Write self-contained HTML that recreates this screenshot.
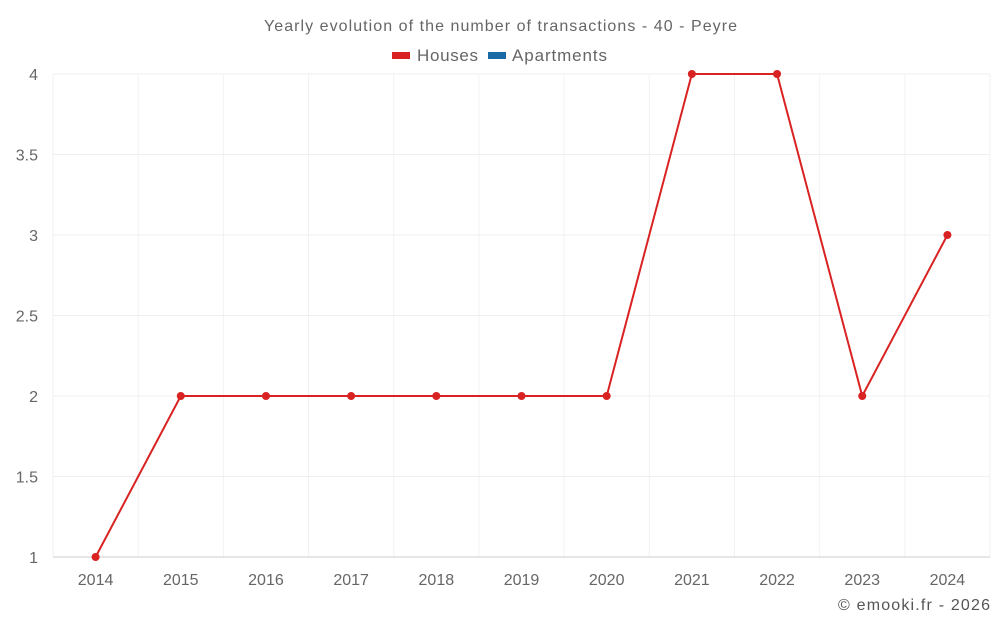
<!DOCTYPE html>
<html><head><meta charset="utf-8"><style>
body{margin:0;background:#fff;font-family:"Liberation Sans",sans-serif;}
</style></head><body>
<svg id="c" width="1000" height="625" style="display:block">
<text x="264" y="31" font-size="16" fill="#666" textLength="473" lengthAdjust="spacing">Yearly evolution of the number of transactions - 40 - Peyre</text>
<g><rect x="392" y="52" width="18" height="7" fill="#d92323"/><text x="417" y="61" font-size="17" fill="#666" textLength="61">Houses</text></g>
<g><rect x="488" y="52" width="18" height="7" fill="#1a6aa5"/><text x="512" y="61" font-size="17" fill="#666" textLength="95">Apartments</text></g>
<g id="grid"></g><g id="axes"></g><g id="series"></g>
<text x="838" y="610" font-size="16" fill="#555" textLength="152">© emooki.fr - 2026</text>
</svg>
<script>
const categories=["2014","2015","2016","2017","2018","2019","2020","2021","2022","2023","2024"];
const houses=[1,2,2,2,2,2,2,4,4,2,3];
const yTicks=[1,1.5,2,2.5,3,3.5,4];
const L=53,R=990,T=74,B=557,yMin=1,yMax=4;
const ns="http://www.w3.org/2000/svg";
const bw=(R-L)/categories.length;
const x=i=>L+bw*(i+0.5);
const y=v=>B-(v-yMin)/(yMax-yMin)*(B-T);
function mk(t,a,p){const e=document.createElementNS(ns,t);for(const k in a)e.setAttribute(k,a[k]);p.appendChild(e);return e;}
const g=document.getElementById('grid'),ax=document.getElementById('axes'),s=document.getElementById('series');
for(let i=0;i<=categories.length;i++){const e=mk('line',{x1:L+bw*i,x2:L+bw*i,y1:T,y2:B,stroke:'#f2f2f2'},g);

}
yTicks.forEach(v=>{const e=mk('line',{x1:L,x2:R,y1:y(v),y2:y(v),stroke:v===yMin?'#ccc':'#efefef'},g);


const t=mk('text',{x:38,y:y(v)+6,'text-anchor':'end','font-size':16,fill:'#666'},ax);t.textContent=v;

});
categories.forEach((c,i)=>{const t=mk('text',{x:x(i),y:585,'text-anchor':'middle','font-size':16,fill:'#666'},ax);t.textContent=c;

});
const p=mk('polyline',{points:houses.map((v,i)=>x(i)+','+y(v)).join(' '),fill:'none',stroke:'#d92323','stroke-width':2},s);


houses.forEach((v,i)=>{const d=mk('circle',{cx:x(i),cy:y(v),r:4,fill:'#d92323'},s);

});
</script>
</body></html>
